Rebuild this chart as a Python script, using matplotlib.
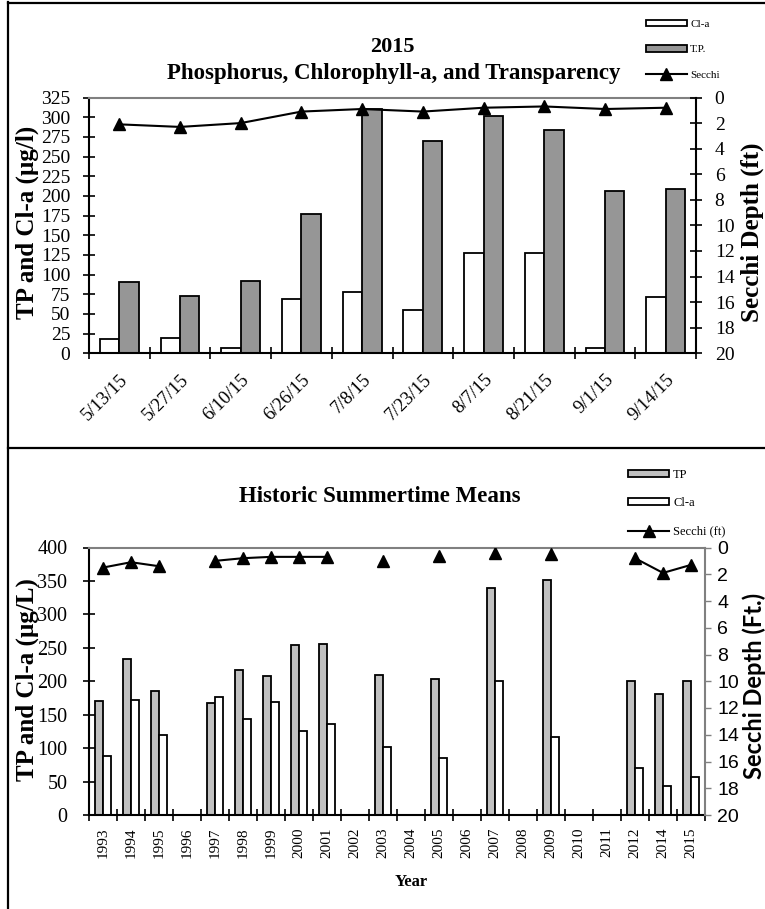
import numpy as np
import matplotlib
matplotlib.use("Agg")
import matplotlib.pyplot as plt
from matplotlib.lines import Line2D

# ---------------- data ----------------
dates_2015 = ['5/13/15', '5/27/15', '6/10/15', '6/26/15', '7/8/15',
              '7/23/15', '8/7/15', '8/21/15', '9/1/15', '9/14/15']
cla_2015 = [18, 19, 7, 69, 78, 55, 128, 127, 7, 72]
tp_2015 = [91, 73, 92, 177, 310, 270, 302, 284, 206, 209]
secchi_2015 = [2.1, 2.3, 2.0, 1.1, 0.9, 1.1, 0.8, 0.7, 0.9, 0.8]

years = ['1993', '1994', '1995', '1996', '1997', '1998', '1999', '2000',
         '2001', '2002', '2003', '2004', '2005', '2006', '2007', '2008',
         '2009', '2010', '2011', '2012', '2014', '2015']
nan = np.nan
tp_hist = [171, 233, 185, nan, 168, 217, 208, 254, 255, nan, 209, nan,
           204, nan, 340, nan, 352, nan, nan, 200, 181, 200]
cla_hist = [88, 172, 119, nan, 177, 144, 169, 125, 136, nan, 102, nan,
            85, nan, 200, nan, 116, nan, nan, 71, 43, 57]
secchi_hist = [1.5, 1.1, 1.4, nan, 1.0, 0.8, 0.7, 0.7, 0.7, nan, 1.0, nan,
               0.6, nan, 0.4, nan, 0.5, nan, nan, 0.8, 1.9, 1.3]

# ---------------- style ----------------
SERIF = 'Liberation Serif'
SANS = 'Liberation Sans'
plt.rcParams['font.family'] = [SERIF, 'DejaVu Sans']

W, H = 765, 909
fig = plt.figure(figsize=(W / 100, H / 100), dpi=100)


def fx(px):
    return px / W


def fy(py):
    return 1 - py / H


# frame lines of the original document
for line in [([fx(8), fx(8)], [fy(2), fy(909)]),
             ([fx(8), fx(765)], [fy(3), fy(3)]),
             ([fx(8), fx(765)], [fy(448), fy(448)])]:
    fig.add_artist(Line2D(line[0], line[1], color='black', lw=1.6,
                          transform=fig.transFigure))

# ================= top chart =================
ax1 = fig.add_axes([fx(89), fy(353.3), fx(696) - fx(89), fy(97.5) - fy(353.3)])
x1 = np.arange(len(dates_2015))
bw = 0.32
b_cla = ax1.bar(x1 - 0.16, cla_2015, width=bw, color='white',
                edgecolor='black', linewidth=1.3, label='Cl-a')
b_tp = ax1.bar(x1 + 0.16, tp_2015, width=bw, color='#969696',
               edgecolor='black', linewidth=1.3, label='T.P.')
ax1.set_xlim(-0.5, len(dates_2015) - 0.5)
ax1.set_ylim(0, 325)
ax1.set_yticks(np.arange(0, 326, 25))
ax1.set_xticks(x1)
ax1.set_xticklabels(dates_2015)
ax1.set_xticks(np.arange(-0.5, len(dates_2015), 1), minor=True)
ax1.tick_params(axis='x', which='major', length=0, pad=13, labelsize=13.5)
ax1.tick_params(axis='x', which='minor', direction='inout', length=8,
                width=1.2)
for lab in ax1.get_xticklabels():
    lab.set_rotation(45)
    lab.set_ha('right')
    lab.set_rotation_mode('anchor')
ax1.tick_params(axis='y', direction='inout', length=9, width=1.2, pad=9,
                labelsize=14)
ax1.spines['top'].set_color('#808080')
ax1.spines['top'].set_linewidth(1.5)
ax1.spines['right'].set_visible(False)
ax1.spines['left'].set_linewidth(1.5)
ax1.spines['bottom'].set_linewidth(1.5)

ax1r = ax1.twinx()
l1, = ax1r.plot(x1, secchi_2015, color='black', lw=1.5, marker='^',
                markersize=9, label='Secchi')
ax1r.set_ylim(20, 0)
ax1r.set_yticks(np.arange(0, 21, 2))
ax1r.tick_params(axis='y', direction='inout', length=9, width=1.2, pad=9,
                 labelsize=14)
for s in ['top', 'left', 'bottom']:
    ax1r.spines[s].set_visible(False)
ax1r.spines['right'].set_linewidth(1.5)

fig.text(fx(392), fy(47), '2015', ha='center', va='center',
         fontsize=16, fontweight='bold')
fig.text(fx(394), fy(74), 'Phosphorus, Chlorophyll-a, and Transparency',
         ha='center', va='center', fontsize=16.5, fontweight='bold')
fig.text(fx(27), fy(222), 'TP and Cl-a (\u00b5g/l)', rotation=90,
         ha='center', va='center', fontsize=18, fontweight='bold')
fig.text(fx(752), fy(232), 'Secchi Depth (ft)', rotation=90,
         ha='center', va='center', fontsize=18, fontweight='bold')

leg1 = fig.legend([b_cla, b_tp, l1], ['Cl-a', 'T.P.', 'Secchi'],
                  loc='upper left', bbox_to_anchor=(fx(643), fy(17)),
                  borderaxespad=0, fontsize=8, handlelength=3.7,
                  handleheight=0.55, handletextpad=0.3, labelspacing=1.45,
                  borderpad=0.25, frameon=True, fancybox=False,
                  framealpha=1, edgecolor='white', facecolor='white')
leg1.set_zorder(10)

# ================= bottom chart =================
ax2 = fig.add_axes([fx(89), fy(815), fx(705) - fx(89), fy(547.5) - fy(815)])
x2 = np.arange(len(years))
bw2 = 0.29
b_tp2 = ax2.bar(x2 - 0.145, tp_hist, width=bw2, color='#c0c0c0',
                edgecolor='black', linewidth=1.3, label='TP')
b_cla2 = ax2.bar(x2 + 0.145, cla_hist, width=bw2, color='white',
                 edgecolor='black', linewidth=1.3, label='Cl-a')
ax2.set_xlim(-0.5, len(years) - 0.5)
ax2.set_ylim(0, 400)
ax2.set_yticks(np.arange(0, 401, 50))
ax2.set_xticks(x2)
ax2.set_xticklabels(years, rotation=90)
ax2.set_xticks(np.arange(-0.5, len(years), 1), minor=True)
ax2.tick_params(axis='x', which='major', length=0, pad=9, labelsize=11)
ax2.tick_params(axis='x', which='minor', direction='inout', length=8,
                width=1.2)
ax2.tick_params(axis='y', direction='inout', length=9, width=1.2, pad=11,
                labelsize=14.5)
ax2.spines['top'].set_color('#808080')
ax2.spines['top'].set_linewidth(1.5)
ax2.spines['right'].set_visible(False)
ax2.spines['left'].set_linewidth(1.5)
ax2.spines['bottom'].set_linewidth(1.5)

ax2r = ax2.twinx()
l2, = ax2r.plot(x2, secchi_hist, color='black', lw=1.5, marker='^',
                markersize=9, label='Secchi (ft)')
ax2r.set_ylim(20, 0)
ax2r.set_yticks(np.arange(0, 21, 2))
ax2r.tick_params(axis='y', direction='out', length=4, width=1.0,
                 color='#808080', pad=5, labelsize=14)
for lab in ax2r.get_yticklabels():
    lab.set_fontfamily(SANS)
for s in ['top', 'left', 'bottom']:
    ax2r.spines[s].set_visible(False)
ax2r.spines['right'].set_color('#808080')
ax2r.spines['right'].set_linewidth(1.5)

fig.text(fx(380), fy(497), 'Historic Summertime Means', ha='center',
         va='center', fontsize=16.5, fontweight='bold')
fig.text(fx(27), fy(680), 'TP and Cl-a (\u00b5g/L)', rotation=90,
         ha='center', va='center', fontsize=18, fontweight='bold')
fig.text(fx(754), fy(686), 'Secchi Depth (Ft.)', rotation=90,
         ha='center', va='center', fontsize=17, fontweight='bold',
         family=['Lato', 'DejaVu Sans'])
fig.text(fx(411), fy(882), 'Year', ha='center', va='center',
         fontsize=12, fontweight='bold')

leg2 = fig.legend([b_tp2, b_cla2, l2], ['TP', 'Cl-a', 'Secchi (ft)'],
                  loc='upper left', bbox_to_anchor=(fx(625), fy(466)),
                  borderaxespad=0, fontsize=9, handlelength=3.3,
                  handleheight=0.5, handletextpad=0.3, labelspacing=1.3,
                  borderpad=0.25, frameon=False)

fig.savefig('out.png', dpi=100)
